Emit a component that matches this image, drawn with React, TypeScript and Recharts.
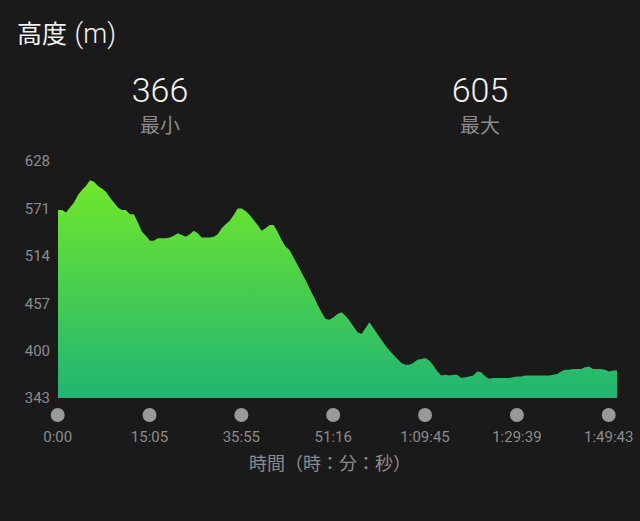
import { AreaChart, Area, XAxis, YAxis } from 'recharts';

const elevation = [
  569, 569, 566, 572, 578, 587, 593, 598, 605, 603, 598, 595, 591, 584, 578, 572, 569, 569, 564, 564,
  554, 543, 538, 532, 532, 535, 535, 535, 536, 538, 541, 539, 537, 540, 544, 541, 536, 536, 536, 537,
  540, 547, 552, 556, 563, 571, 571, 568, 563, 557, 551, 544, 547, 551, 551, 543, 533, 525, 521, 512,
  503, 494, 485, 475, 465, 455, 446, 438, 437, 440, 444, 446, 442, 436, 429, 422, 420, 427, 434, 427,
  420, 413, 406, 400, 395, 390, 385, 383, 383, 385, 389, 390, 391, 388, 382, 375, 370, 371, 370, 371,
  371, 367, 368, 369, 370, 375, 374, 369, 366, 367, 367, 367, 367, 367, 368, 369, 369, 370, 370, 370,
  370, 370, 370, 370, 371, 372, 375, 377, 377, 378, 378, 378, 380, 381, 378, 378, 378, 377, 375, 376,
  376,
];
const xTicks = [0, 23, 46, 69, 92, 115, 138];
const xLabels = ['0:00', '15:05', '35:55', '51:16', '1:09:45', '1:29:39', '1:49:43'];
const yTicks = [343, 400, 457, 514, 571, 628];

const data = elevation.map((elev, i) => ({ i, elev }));

const BG = '#1a1a1a';
const GREY = '#8c8c8c';
const CJK = '"Noto Sans CJK JP", Roboto, sans-serif';

function TimeTick({ x, payload }: any) {
  return (
    <g>
      <circle cx={x - 0.3} cy={415} r={7} fill="#999999" />
      <text x={x - 0.3} y={442} textAnchor="middle" fontSize={15} fill={GREY} fontFamily="Roboto">
        {xLabels[xTicks.indexOf(payload.value)]}
      </text>
    </g>
  );
}

function Stat({ left, value, label }: { left: number; value: string; label: string }) {
  return (
    <>
      <div style={{ position: 'absolute', left: left - 60, width: 120, top: 69, textAlign: 'center', color: '#f2f2f2', fontFamily: 'Roboto', fontWeight: 300, fontSize: 34, lineHeight: '42px' }}>
        {value}
      </div>
      <div style={{ position: 'absolute', left: left - 60, width: 120, top: 111, textAlign: 'center', color: GREY, fontFamily: CJK, fontSize: 20, lineHeight: '28px' }}>
        {label}
      </div>
    </>
  );
}

export default function App() {
  return (
    <div style={{ position: 'absolute', left: 0, top: 0, width: 640, height: 521, background: BG, overflow: 'hidden' }}>
      <div style={{ position: 'absolute', left: 17, top: 14, color: '#f2f2f2', fontFamily: CJK, fontSize: 25, lineHeight: '36px', whiteSpace: 'pre' }}>
        高度 <span style={{ fontFamily: 'Roboto', fontWeight: 300, fontSize: 27, marginLeft: 2 }}>(m)</span>
      </div>
      <Stat left={160} value="366" label="最小" />
      <Stat left={480} value="605" label="最大" />

      <AreaChart width={640} height={521} data={data} margin={{ top: 161, right: 23, bottom: 0, left: 0 }}>
        <defs>
          <linearGradient id="elevFill" x1="0" y1="0" x2="0" y2="1">
            <stop offset="0%" stopColor="#70e82a" />
            <stop offset="100%" stopColor="#20b573" />
          </linearGradient>
        </defs>
        <XAxis
          dataKey="i"
          type="number"
          domain={[0, 140]}
          ticks={xTicks}
          height={123}
          axisLine={false}
          tickLine={false}
          interval={0}
          tick={<TimeTick />}
        />
        <YAxis
          width={58}
          domain={[343, 628]}
          ticks={yTicks}
          interval={0}
          axisLine={false}
          tickLine={false}
          tickMargin={0}
          dx={-2}
          tick={{ fill: GREY, fontSize: 15, fontFamily: 'Roboto' }}
        />
        <Area dataKey="elev" type="linear" stroke="none" fill="url(#elevFill)" fillOpacity={1} isAnimationActive={false} baseValue={343} dot={false} activeDot={false} />
      </AreaChart>

      <div style={{ position: 'absolute', left: 230, width: 200, top: 449, textAlign: 'center', color: GREY, fontFamily: CJK, fontSize: 18, lineHeight: '26px', whiteSpace: 'pre', textSpacingTrim: 'space-all' } as any}>
        時間（時：分：秒）
      </div>
    </div>
  );
}
